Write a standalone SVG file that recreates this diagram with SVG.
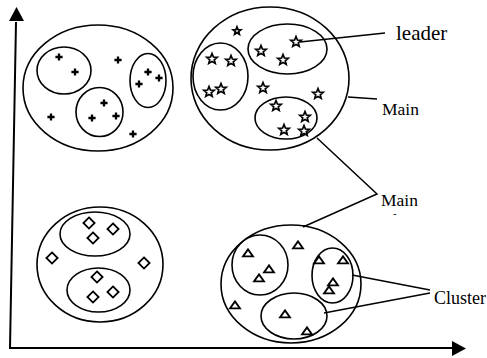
<svg xmlns="http://www.w3.org/2000/svg" width="487" height="358" viewBox="0 0 487 358">
  <style>
    .ell { fill: none; stroke: #000; stroke-width: 1.6; }
    .ln { fill: none; stroke: #000; stroke-width: 1.5; }
    .axis { fill: none; stroke: #000; stroke-width: 2; }
    .lbl { font-family: "Liberation Serif", "Times New Roman", serif; fill: #000; }
  </style>
  <defs>
    <path id="plus" d="M-3.6,0H3.6M0,-3.6V3.6" stroke="#000" stroke-width="2.3" fill="none"/>
    <polygon id="star" points="0,-5.5 1.41,-1.94 5.23,-1.7 2.28,0.74 3.23,4.45 0,2.4 -3.23,4.45 -2.28,0.74 -5.23,-1.7 -1.41,-1.94" fill="#fff" stroke="#000" stroke-width="1.7" stroke-linejoin="miter"/>
    <polygon id="star-s" points="0,-4 1.03,-1.41 3.8,-1.24 1.66,0.54 2.35,3.24 0,1.75 -2.35,3.24 -1.66,0.54 -3.8,-1.24 -1.03,-1.41" fill="#fff" stroke="#000" stroke-width="1.8"/>
    <polygon id="diamond" points="0,-5.6 5.6,0 0,5.6 -5.6,0" fill="#fff" stroke="#000" stroke-width="1.8"/>
    <polygon id="tri" points="-5,3.4 5,3.4 0,-3.6" fill="#fff" stroke="#000" stroke-width="1.8" stroke-linejoin="miter"/>
    <clipPath id="clip-main2">
      <rect x="370" y="180" width="117" height="35"/>
    </clipPath>
  </defs>

  <!-- axes -->
  <g id="axes">
    <polyline class="axis" points="16,22 10,348 454,348" stroke-linejoin="miter"/>
    <polygon points="9,21 24,21 16.5,7" fill="#000"/>
    <polygon points="452,341 466,348.5 452,356" fill="#000"/>
  </g>

  <!-- top-left group: plus markers -->
  <g id="group-plus">
    <ellipse class="ell" cx="98" cy="88" rx="75" ry="63"/>
    <ellipse class="ell" cx="64" cy="70.5" rx="27" ry="23.5"/>
    <ellipse class="ell" cx="99.5" cy="112" rx="23.5" ry="24.5"/>
    <ellipse class="ell" cx="148" cy="80.5" rx="18" ry="27"/>
    <use href="#plus" x="59" y="57"/>
    <use href="#plus" x="75" y="72"/>
    <use href="#plus" x="118" y="60"/>
    <use href="#plus" x="148" y="72"/>
    <use href="#plus" x="159" y="78"/>
    <use href="#plus" x="139" y="84"/>
    <use href="#plus" x="104" y="103"/>
    <use href="#plus" x="92" y="118"/>
    <use href="#plus" x="116" y="116"/>
    <use href="#plus" x="51" y="117"/>
    <use href="#plus" x="133" y="134"/>
  </g>

  <!-- top-right group: star markers -->
  <g id="group-star">
    <ellipse class="ell" cx="270" cy="78.5" rx="79" ry="71.5"/>
    <ellipse class="ell" cx="220.5" cy="76.5" rx="27.5" ry="33.5"/>
    <ellipse class="ell" cx="287.5" cy="49" rx="39.5" ry="25"/>
    <ellipse class="ell" cx="286" cy="118" rx="31" ry="21"/>
    <use href="#star-s" x="237" y="31"/>
    <use href="#star" x="296" y="42"/>
    <use href="#star" x="261" y="51"/>
    <use href="#star" x="283" y="60"/>
    <use href="#star" x="212" y="59"/>
    <use href="#star" x="231" y="61"/>
    <use href="#star" x="209" y="92"/>
    <use href="#star" x="221" y="89"/>
    <use href="#star" x="263" y="88"/>
    <use href="#star" x="318" y="94"/>
    <use href="#star" x="276" y="106"/>
    <use href="#star" x="305" y="117"/>
    <use href="#star" x="284" y="130"/>
    <use href="#star" x="304" y="131"/>
  </g>

  <!-- bottom-left group: diamond markers -->
  <g id="group-diamond">
    <ellipse class="ell" cx="100" cy="264.5" rx="63" ry="57.5"/>
    <ellipse class="ell" cx="95" cy="234" rx="35" ry="22"/>
    <ellipse class="ell" cx="98.5" cy="290" rx="31.5" ry="22"/>
    <use href="#diamond" x="89" y="223"/>
    <use href="#diamond" x="113" y="229"/>
    <use href="#diamond" x="93" y="238"/>
    <use href="#diamond" x="52" y="258"/>
    <use href="#diamond" x="144" y="263"/>
    <use href="#diamond" x="97" y="277"/>
    <use href="#diamond" x="93" y="297"/>
    <use href="#diamond" x="113" y="292"/>
  </g>

  <!-- bottom-right group: triangle markers -->
  <g id="group-triangle">
    <ellipse class="ell" cx="291" cy="284" rx="70" ry="59"/>
    <ellipse class="ell" cx="260" cy="265" rx="28" ry="30"/>
    <ellipse class="ell" cx="332.5" cy="275.5" rx="20.5" ry="27.5"/>
    <ellipse class="ell" cx="294" cy="316" rx="33" ry="23"/>
    <use href="#tri" x="248" y="253"/>
    <use href="#tri" x="298" y="245"/>
    <use href="#tri" x="269" y="269"/>
    <use href="#tri" x="259" y="278"/>
    <use href="#tri" x="319" y="260"/>
    <use href="#tri" x="343" y="260"/>
    <use href="#tri" x="333" y="282"/>
    <use href="#tri" x="329" y="290"/>
    <use href="#tri" x="235" y="305"/>
    <use href="#tri" x="285" y="314"/>
    <use href="#tri" x="307" y="331"/>
  </g>

  <!-- callout lines -->
  <g id="connectors">
    <line class="ln" x1="300" y1="42" x2="385" y2="33"/>
    <line class="ln" x1="348" y1="97" x2="377" y2="99"/>
    <polyline class="ln" points="317,138 377,194 303,227"/>
    <line class="ln" x1="352" y1="275" x2="430" y2="290"/>
    <line class="ln" x1="324" y1="313" x2="430" y2="293"/>
  </g>

  <!-- labels -->
  <g id="label-leader">
    <text class="lbl" x="396" y="40" font-size="21">leader</text>
  </g>
  <g id="label-main-1">
    <text class="lbl" x="382" y="115" font-size="17.5">Main</text>
  </g>
  <g id="label-main-2" clip-path="url(#clip-main2)">
    <text class="lbl" x="381" y="206" font-size="17.5">Main</text>
    <text class="lbl" x="381" y="226" font-size="17.5">Cluster</text>
  </g>
  <g id="label-cluster">
    <text class="lbl" x="434" y="304" font-size="18">Cluster</text>
  </g>
</svg>
